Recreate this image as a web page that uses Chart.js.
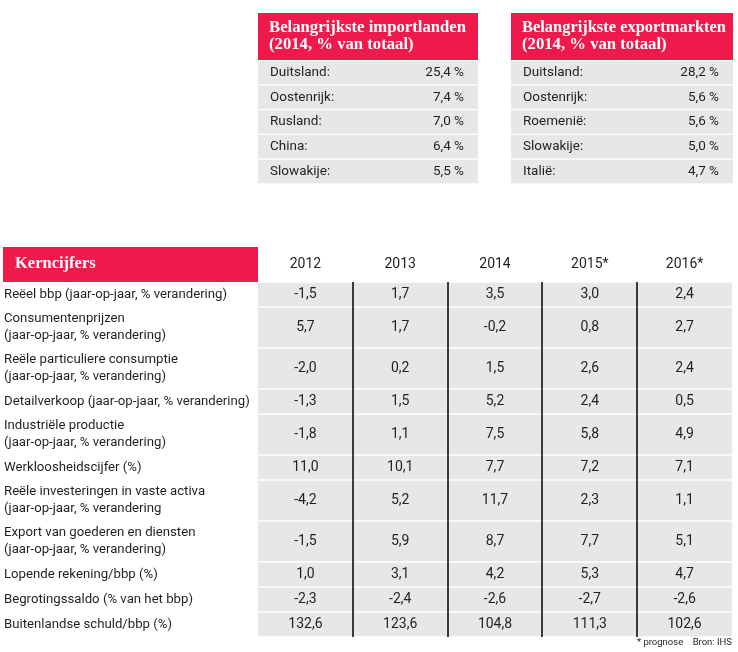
<!DOCTYPE html>
<html>
<head>
<meta charset="utf-8">
<script src="https://cdn.jsdelivr.net/npm/chart.js@4.4.1/dist/chart.umd.min.js"></script>
<style>
  body { margin: 0; background: #fff; }
  .box { position: absolute; }
  #imp { left: 258px; top: 13px; width: 220px; height: 171px; }
  #exp { left: 511px; top: 13px; width: 222px; height: 171px; }
  #kern { left: 0; top: 240px; width: 738px; height: 412px; }
</style>
</head>
<body>
<div class="box" id="imp"><canvas id="impChart"></canvas></div>
<div class="box" id="exp"><canvas id="expChart"></canvas></div>
<div class="box" id="kern"><canvas id="kernChart"></canvas></div>
<script>
var importCountries = ['Duitsland:', 'Oostenrijk:', 'Rusland:', 'China:', 'Slowakije:'];
var importShares = [25.4, 7.4, 7.0, 6.4, 5.5];
var exportCountries = ['Duitsland:', 'Oostenrijk:', 'Roemenië:', 'Slowakije:', 'Italië:'];
var exportShares = [28.2, 5.6, 5.6, 5.0, 4.7];

var years = ['2012', '2013', '2014', '2015*', '2016*'];
var indicators = [
    ['Reëel bbp (jaar-op-jaar, % verandering)'],
    ['Consumentenprijzen', '(jaar-op-jaar, % verandering)'],
    ['Reële particuliere consumptie', '(jaar-op-jaar, % verandering)'],
    ['Detailverkoop (jaar-op-jaar, % verandering)'],
    ['Industriële productie', '(jaar-op-jaar, % verandering)'],
    ['Werkloosheidscijfer (%)'],
    ['Reële investeringen in vaste activa', '(jaar-op-jaar, % verandering'],
    ['Export van goederen en diensten', '(jaar-op-jaar, % verandering)'],
    ['Lopende rekening/bbp (%)'],
    ['Begrotingssaldo (% van het bbp)'],
    ['Buitenlandse schuld/bbp (%)']
];
var values2012 = [-1.5, 5.7, -2.0, -1.3, -1.8, 11.0, -4.2, -1.5, 1.0, -2.3, 132.6];
var values2013 = [1.7, 1.7, 0.2, 1.5, 1.1, 10.1, 5.2, 5.9, 3.1, -2.4, 123.6];
var values2014 = [3.5, -0.2, 1.5, 5.2, 7.5, 7.7, 11.7, 8.7, 4.2, -2.6, 104.8];
var values2015 = [3.0, 0.8, 2.6, 2.4, 5.8, 7.2, 2.3, 7.7, 5.3, -2.7, 111.3];
var values2016 = [2.4, 2.7, 2.4, 0.5, 4.9, 7.1, 1.1, 5.1, 4.7, -2.6, 102.6];

var red = '#ee1a4b';
var grey = '#e6e7e8';
var ink = '#231f20';
var sans = 'Roboto, sans-serif';
var serif = '"Liberation Serif", serif';

function fmt(v) {
    return v.toFixed(1).replace('.', ',');
}

// red title block above the small tables
function headerPlugin(lines) {
    return {
        id: 'header',
        beforeDraw: function(chart) {
            var a = chart.chartArea, ctx = chart.ctx;
            var maxW = a.right - a.left - 18;
            ctx.save();
            ctx.fillStyle = red;
            ctx.fillRect(a.left, 0, a.right - a.left, a.top);
            ctx.fillStyle = '#fff';
            ctx.font = 'bold 16.7px ' + serif;
            ctx.textAlign = 'left';
            ctx.textBaseline = 'alphabetic';
            ctx.fillText(lines[0], a.left + 11, 19, maxW);
            ctx.fillText(lines[1], a.left + 11, 36, maxW);
            ctx.restore();
        }
    };
}

function noPad(s) {
    s.width = 0;
    s.paddingTop = 0;
    s.paddingBottom = 0;
}

function smallTable(id, title, countries, shares) {
    return new Chart(document.getElementById(id), {
        type: 'bar',
        data: {
            labels: countries,
            datasets: [{
                data: countries.map(function() { return [0, 1]; }),
                backgroundColor: grey,
                borderColor: '#fff',
                borderWidth: {top: 1, bottom: 1},
                borderSkipped: false,
                barPercentage: 1,
                categoryPercentage: 1
            }]
        },
        options: {
            indexAxis: 'y',
            responsive: true,
            maintainAspectRatio: false,
            animation: false,
            layout: {padding: {top: 47}},
            plugins: {legend: {display: false}, tooltip: {enabled: false}},
            scales: {
                x: {display: false, min: 0, max: 1},
                y: {
                    position: 'left',
                    grid: {display: false, drawTicks: false},
                    border: {display: false},
                    afterFit: noPad,
                    ticks: {z: 1, mirror: true, padding: 12, color: ink, font: {family: sans, size: 13.5}}
                },
                y2: {
                    type: 'category', position: 'right', offset: true,
                    labels: shares.map(function(v) { return fmt(v) + ' %'; }),
                    grid: {display: false, drawTicks: false},
                    border: {display: false},
                    afterFit: noPad,
                    ticks: {z: 1, mirror: true, padding: -14, color: ink, font: {family: sans, size: 13.5}}
                }
            }
        },
        plugins: [headerPlugin(title)]
    });
}

smallTable('impChart', ['Belangrijkste importlanden', '(2014, % van totaal)'], importCountries, importShares);
smallTable('expChart', ['Belangrijkste exportmarkten', '(2014, % van totaal)'], exportCountries, exportShares);

// key figures table
var columns = [values2012, values2013, values2014, values2015, values2016];
var rowEdges = [0];
indicators.forEach(function(lines) {
    rowEdges.push(rowEdges[rowEdges.length - 1] + (lines.length === 1 ? 25 : 41));
});
var rowCenters = indicators.map(function(l, r) { return (rowEdges[r] + rowEdges[r + 1]) / 2; });

var datasets = indicators.map(function(lines, r) {
    return {
        data: years.map(function(y, c) {
            return {x: y, y: [rowEdges[r], rowEdges[r + 1]], v: columns[c][r]};
        }),
        backgroundColor: grey,
        borderColor: '#fff',
        borderWidth: {top: 1, bottom: 1},
        borderSkipped: false,
        barPercentage: 1,
        categoryPercentage: 1,
        grouped: false
    };
});

var kernPlugin = {
    id: 'kern',
    beforeDraw: function(chart) {
        var ctx = chart.ctx, a = chart.chartArea, ys = chart.scales.y;
        ctx.save();
        ctx.fillStyle = red;
        ctx.fillRect(ys.left - 1, 7, a.left - ys.left + 1, a.top - 7);
        ctx.fillStyle = '#fff';
        ctx.font = 'bold 16.5px ' + serif;
        ctx.textBaseline = 'middle';
        ctx.fillText('Kerncijfers', ys.left + 11, 24);
        ctx.restore();
    },
    afterDatasetsDraw: function(chart) {
        var ctx = chart.ctx, a = chart.chartArea, xs = chart.scales.x;
        ctx.save();
        ctx.strokeStyle = '#000';
        ctx.lineWidth = 1.5;
        for (var c = 1; c < years.length; c++) {
            var px = Math.round((xs.getPixelForValue(c - 1) + xs.getPixelForValue(c)) / 2);
            ctx.beginPath();
            ctx.moveTo(px, a.top);
            ctx.lineTo(px, a.bottom);
            ctx.stroke();
        }
        ctx.fillStyle = ink;
        ctx.font = '14px ' + sans;
        ctx.textAlign = 'center';
        ctx.textBaseline = 'middle';
        chart.data.datasets.forEach(function(ds, r) {
            chart.getDatasetMeta(r).data.forEach(function(bar, c) {
                ctx.fillText(fmt(ds.data[c].v), bar.x, (bar.y + bar.base) / 2);
            });
        });
        ctx.font = '9.5px ' + sans;
        ctx.textAlign = 'right';
        ctx.fillText('* prognose    Bron: IHS', a.right, a.bottom + 6);
        ctx.restore();
    }
};

new Chart(document.getElementById('kernChart'), {
    type: 'bar',
    data: {labels: years, datasets: datasets},
    options: {
        responsive: true,
        maintainAspectRatio: false,
        animation: false,
        layout: {padding: {left: 4, right: 6, bottom: 15, top: 0}},
        plugins: {legend: {display: false}, tooltip: {enabled: false}},
        scales: {
            x: {
                position: 'top',
                grid: {display: false, drawTicks: false},
                border: {display: false},
                afterFit: function(s) { s.height = 42; },
                ticks: {padding: 9, color: ink, font: {family: sans, size: 14}}
            },
            y: {
                type: 'linear', reverse: true, min: 0, max: rowEdges[rowEdges.length - 1],
                grid: {display: false, drawTicks: false},
                border: {display: false},
                afterBuildTicks: function(s) {
                    s.ticks = rowCenters.map(function(v) { return {value: v}; });
                },
                afterFit: function(s) { s.width = 254; },
                ticks: {
                    autoSkip: false, crossAlign: 'far', color: ink,
                    font: {family: sans, size: 13.2, lineHeight: 1.3},
                    callback: function(v, i) { return indicators[i]; }
                }
            }
        }
    },
    plugins: [kernPlugin]
});
</script>
</body>
</html>
